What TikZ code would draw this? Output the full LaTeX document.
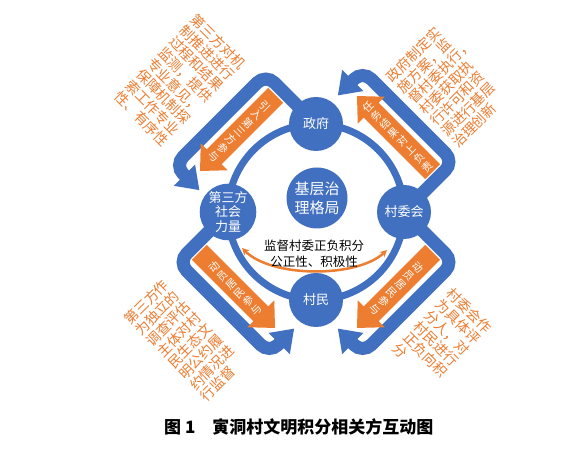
\documentclass[tikz,border=0pt]{standalone}
\usepackage{fontspec}
\setmainfont{Noto Sans CJK SC}
\usetikzlibrary{arrows.meta}
\definecolor{myblue}{HTML}{4270C0}
\definecolor{myorange}{HTML}{ED7D31}
\newcommand\uturnshape{%
  \draw[ubar] (62,70) -- (62,133) -- (-67,133) -- (-67,118);
  \fill[myblue] (-82,119) -- (-52,119) -- (-67,98) -- cycle;
  \fill[myorange] (54,100.5) -- (-33,100.5) -- (-33,92) -- (-53,111) -- (-33,130) -- (-33,121.5) -- (54,121.5) -- cycle;
}
\begin{document}
\begin{tikzpicture}[x=1pt,y=1pt,
  ubar/.style={draw=myblue, line width=13pt, rounded corners=12pt},
  nodecirc/.style={circle, fill=myblue, minimum size=54pt, inner sep=0pt, text=white, align=center, font=\fontsize{13}{15}\selectfont},
  otext/.style={text=myorange, inner sep=0pt, font=\fontsize{14}{15.5}\selectfont},
  atext/.style={text=white, inner sep=0pt, align=center, font=\fontsize{10.5}{12}\selectfont}]
\useasboundingbox (0,0) rectangle (585,454);
\fill[white] (0,0) rectangle (585,454);
% ring
\draw[myblue, line width=7pt] (316,242) circle (88);
% corners
\begin{scope}[shift={(316,242)}, rotate=-45]
  \uturnshape
  \node[otext, rotate=45, anchor=west, align=left] (trtext) at (4,145) {政府制定实\\施方案，监\\督村委执行，\\村委获取执\\行许可和资\\源进行基层\\治理创新};
  \node[atext, rotate=45] (trarr) at (5,111) {任\\务\\结\\果\\对\\上\\负\\责};
\end{scope}
\begin{scope}[shift={(316,242)}, rotate=45]
  \uturnshape
  \node[otext, rotate=-45, anchor=east, align=right] (tltext) at (-3,154) {第三方对机\\制推进进行\\过程和结果\\监测，提供\\专业意见，\\保障机制探\\索工作专业\\性、有序性};
  \node[atext, rotate=-45] (tlarr) at (3,111) {引\\入\\第\\三\\方\\参\\与};
\end{scope}
\begin{scope}[shift={(316,242)}, rotate=135]
  \uturnshape
  \node[otext, rotate=45, anchor=west, align=left] (bltext) at (2,212) {第三方作\\为独立的\\调查评估\\主体对村\\民生态文\\明公约履\\约情况进\\行监督};
  \node[atext, rotate=45] (blarr) at (3,111) {动\\员\\居\\民\\参\\与};
\end{scope}
\begin{scope}[shift={(316,242)}, rotate=-135, xscale=-1]
  \uturnshape
  \node[otext, rotate=-45, anchor=west, align=left] (brtext) at (0,150) {村委会作\\为具体评\\分人，对\\村民进行\\正负向积\\分};
  \node[atext, rotate=-45] (brarr) at (3,111) {动\\员\\居\\民\\参\\与};
\end{scope}
% nodes
\node[nodecirc] (gov) at (316,330) {政府};
\node[nodecirc] (vc) at (404,242) {村委会};
\node[nodecirc] (vil) at (316,154) {村民};
\node[nodecirc, font=\fontsize{13}{14.5}\selectfont] (third) at (228,242) {第三方\\社会\\力量};
\node[circle, fill=myblue, minimum size=61pt, inner sep=0pt, text=white, align=center, font=\fontsize{15}{19}\selectfont] (core) at (317,256) {基层治\\理格局};
% supervision arc
\coordinate (arcL) at (242,206);
\coordinate (arcR) at (387,204);
\draw[myorange, line width=2.5pt, {Stealth[length=7pt,width=7pt]}-{Stealth[length=7pt,width=7pt]}] (arcL) .. controls (272,176) and (357,176) .. (arcR);
\node[align=center, inner sep=0pt, font=\fontsize{12.5}{16}\selectfont] (sup) at (314,200) {监督村委正负积分\\公正性、积极性};
% caption
\node[anchor=west, inner sep=0pt, font=\bfseries\fontsize{17}{20}\selectfont] (cap) at (164,27) {图 1\quad 寅洞村文明积分相关方互动图};
\end{tikzpicture}
\end{document}
